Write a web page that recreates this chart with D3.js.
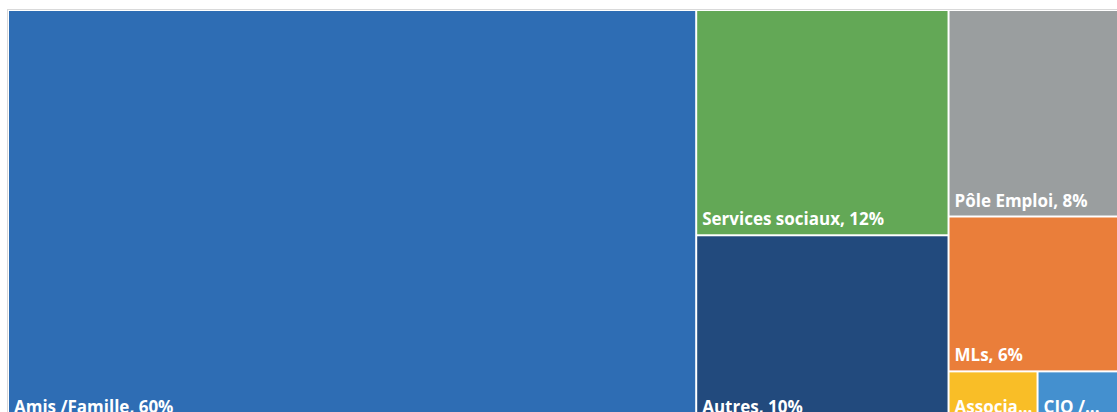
<!DOCTYPE html>
<html lang="fr">
<head>
<meta charset="UTF-8">
<title>Treemap</title>
<script src="https://d3js.org/d3.v7.min.js"></script>
<style>
  body { margin: 0; background: #fff; overflow: hidden; }
  .cell text {
    font-family: "Open Sans", "Noto Sans", sans-serif;
    font-weight: bold;
    font-size: 17px;
    fill: #fff;
  }
</style>
</head>
<body>
<svg width="1117" height="412"></svg>
<script>
  // data
  const names = ["Amis /Famille", "Services sociaux", "Autres", "Pôle Emploi", "MLs", "Associa...", "CIO /..."];
  const values = [60, 12, 10, 9, 6.75, 0.97, 1.28];
  const pctLabels = ["60%", "12%", "10%", "8%", "6%", "", ""];
  const colors = ["#2e6db4", "#63a856", "#224a7d", "#9a9e9f", "#ea7e3a", "#f9be27", "#4490cf"];

  const svg = d3.select("svg");

  // chart frame (cut off at right/bottom like the original)
  svg.append("rect")
    .attr("x", 7.5).attr("y", 9.5)
    .attr("width", 1160).attr("height", 430)
    .attr("fill", "#fff")
    .attr("stroke", "#d9d9d9");

  const root = d3.hierarchy({
      children: names.map((n, i) => ({ name: n, value: values[i], pct: pctLabels[i], color: colors[i] }))
    })
    .sum(d => d.value || 0);

  d3.treemap()
    .tile(d3.treemapSquarify.ratio(1))
    .size([1145, 411])
    .paddingInner(2)(root);

  const g = svg.append("g").attr("transform", "translate(9,11)");

  const cell = g.selectAll("g")
    .data(root.leaves())
    .enter().append("g")
    .attr("class", "cell")
    .attr("transform", d => `translate(${d.x0},${d.y0})`);

  cell.append("rect")
    .attr("width", d => d.x1 - d.x0)
    .attr("height", d => d.y1 - d.y0)
    .attr("fill", d => d.data.color);

  cell.append("text")
    .attr("x", 5)
    .attr("y", d => d.y1 - d.y0 - 9)
    .text(d => d.data.pct ? `${d.data.name}, ${d.data.pct}` : d.data.name);
</script>
</body>
</html>
